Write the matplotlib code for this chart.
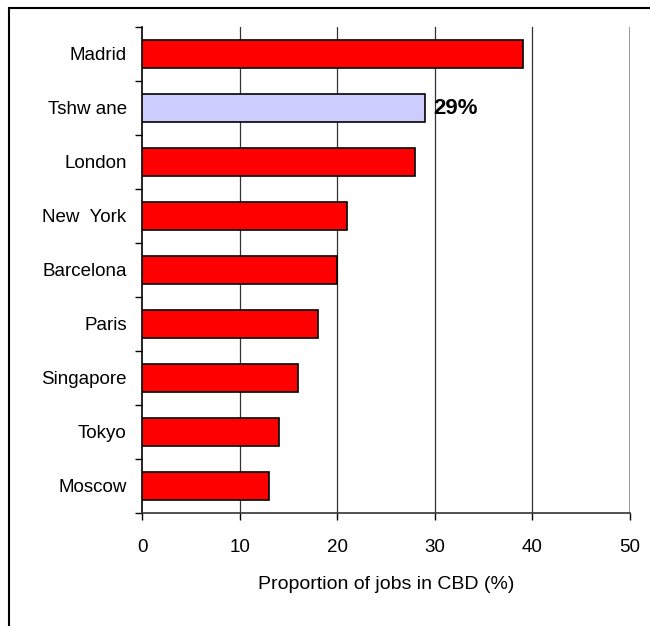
import matplotlib
matplotlib.use("Agg")
import matplotlib.pyplot as plt
from matplotlib.patches import Rectangle
import numpy as np

plt.rcParams['font.family'] = ['Liberation Sans', 'DejaVu Sans']

cities = ["Madrid", "Tshw ane", "London", "New  York", "Barcelona",
          "Paris", "Singapore", "Tokyo", "Moscow"]
share = [39, 29, 28, 21, 20, 18, 16, 14, 13]
highlight = "Tshw ane"
x_ticks = [0, 10, 20, 30, 40, 50]

fig = plt.figure(figsize=(6.5, 6.26), dpi=100)
ax = fig.add_axes([142 / 650, 1 - 513 / 626, 488 / 650, 486 / 626])

# outer chart frame (top and left edges visible)
fig.patches.append(Rectangle((9 / 650, -0.1), 1.2, 1 - 8 / 626 + 0.1,
                             transform=fig.transFigure, fill=False,
                             edgecolor='black', linewidth=1.5))

y = np.arange(len(cities))
colors = ['#CCCCFF' if c == highlight else '#FF0000' for c in cities]
ax.barh(y, share, height=0.52, color=colors, edgecolor='black',
        linewidth=1.2, zorder=3)

for i, (c, v) in enumerate(zip(cities, share)):
    if c == highlight:
        ax.text(v + 0.8, i, f"{v}%", va='center', ha='left',
                fontsize=16, fontweight='bold', zorder=4)

ax.set_xlim(0, 50)
ax.set_ylim(len(cities) - 0.5, -0.5)

ax.set_xticks(x_ticks)
ax.tick_params(axis='x', direction='out', length=5, width=1,
               labelsize=13.5, pad=14)
ax.set_yticks(y)
ax.set_yticklabels(cities)
ax.tick_params(axis='y', which='major', length=0, labelsize=13.5, pad=11)
ax.set_yticks(np.arange(len(cities) + 1) - 0.5, minor=True)
ax.tick_params(axis='y', which='minor', direction='out', length=5, width=1)

for v in x_ticks[1:-1]:
    ax.axvline(v, color='#333333', linewidth=0.9, zorder=1)
ax.axvline(50, color='#888888', linewidth=1.2, zorder=1)

for s in ['top', 'right']:
    ax.spines[s].set_visible(False)
ax.spines['left'].set_linewidth(1.2)
ax.spines['bottom'].set_linewidth(1.2)
ax.spines['bottom'].set_color('#333333')

ax.set_xlabel("Proportion of jobs in CBD (%)", fontsize=14, labelpad=14)

fig.savefig("out.png", dpi=100)
